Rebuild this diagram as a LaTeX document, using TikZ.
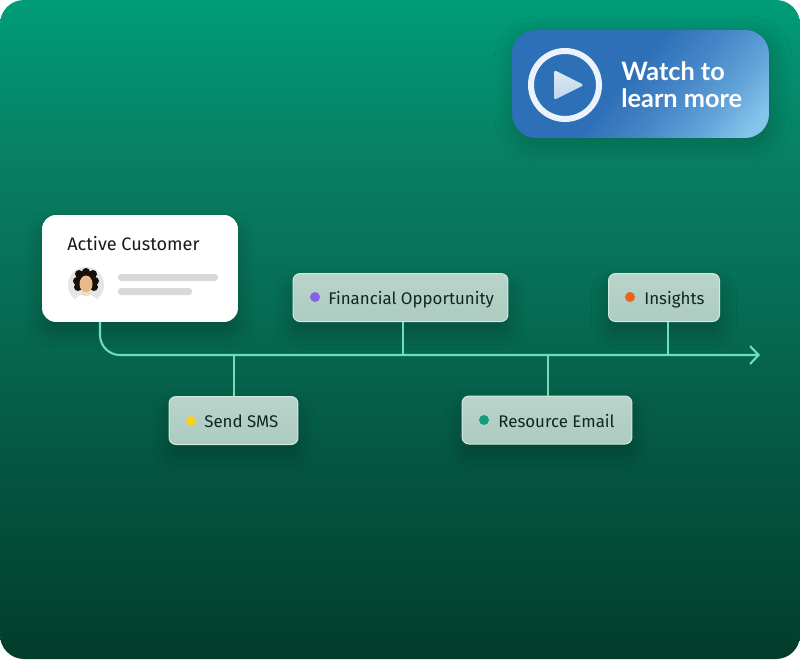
\documentclass[tikz,border=0pt]{standalone}
\usepackage{fontspec}
\setmainfont{Fira Sans}
\newfontfamily\btnfont{Lato}
\usetikzlibrary{arrows.meta,positioning,shadows.blur}
\definecolor{flow}{RGB}{112,222,184}
\definecolor{tagink}{RGB}{16,38,36}
\definecolor{tagtop}{RGB}{186,212,203}
\definecolor{tagbot}{RGB}{172,203,192}
\definecolor{tagedge}{RGB}{208,234,224}
\definecolor{bar}{RGB}{216,218,218}
\definecolor{playtop}{RGB}{222,234,246}
\definecolor{playbot}{RGB}{190,212,236}
\pgfdeclareverticalshading{bgfade}{100bp}{rgb(0bp)=(0.01,0.235,0.17);rgb(25bp)=(0.01,0.235,0.17);rgb(38bp)=(0.015,0.325,0.245);rgb(50bp)=(0.024,0.41,0.315);rgb(63bp)=(0.03,0.50,0.385);rgb(75bp)=(0,0.61,0.47);rgb(100bp)=(0,0.61,0.47)}
\pgfdeclarehorizontalshading{btnfade}{100bp}{rgb(0bp)=(0.18,0.44,0.72);rgb(46bp)=(0.18,0.44,0.72);rgb(58bp)=(0.27,0.52,0.78);rgb(70bp)=(0.38,0.64,0.85);rgb(80bp)=(0.52,0.77,0.92);rgb(100bp)=(0.55,0.80,0.93)}
\tikzset{
  softdrop/.style={blur shadow={shadow xshift=0pt,shadow yshift=-0.22cm,shadow blur radius=0.34cm,shadow opacity=24,shadow blur steps=14}},
  tagbox/.style={rectangle,rounded corners=0.14cm,draw=tagedge,line width=0.02cm,top color=tagtop,bottom color=tagbot,
    minimum height=0.96cm,softdrop},
  taglabel/.style={text=tagink,font=\fontsize{9.6}{11}\selectfont,inner sep=0pt,anchor=base west},
  tagdot/.style={circle,inner sep=0pt,minimum size=0.2cm},
  flowline/.style={draw=flow,line width=0.042cm},
  greybar/.style={fill=bar,rounded corners=0.06cm}
}
\begin{document}
\begin{tikzpicture}[x=0.02cm,y=-0.02cm]
  \useasboundingbox (0,0) rectangle (800,659);
  \shade[shading=bgfade,rounded corners=0.48cm] (0,0) rectangle (800,659);
  % button
  \node [rectangle,rounded corners=0.48cm,minimum width=5.14cm,minimum height=2.16cm,shading=btnfade,shading angle=-40,
    blur shadow={shadow xshift=0.06cm,shadow yshift=-0.12cm,shadow blur radius=0.4cm,shadow opacity=22,shadow blur steps=14}] (btn) at (640.5,84) {};
  \node [circle,draw=playtop!60!white,line width=0.12cm,minimum size=1.36cm,inner sep=0pt] (ring) at (565,85) {};
  \shade[top color=playtop,bottom color=playbot,rounded corners=0.05cm] (554,70) -- (584,85) -- (554,100) -- cycle;
  \node [text=white,align=left,anchor=west,inner sep=0pt,font=\btnfont\bfseries\fontsize{14.4}{15.4}\selectfont] (watch) at (621,85) {Watch to\\learn more};
  % card
  \node [rectangle,rounded corners=0.28cm,fill=white,minimum width=3.92cm,minimum height=2.14cm,softdrop] (card) at (140,268.5) {};
  \node [text=black!90,font=\fontsize{10.3}{12}\selectfont,inner sep=0pt,anchor=base west] (title) at (67,250) {Active Customer};
  \begin{scope}
    \clip (86,285) circle (18);
    \fill[black!10] (66,265) rectangle (106,305);
    \fill[white] (86,312) ellipse (15 and 18);
    \foreach \hx/\hy in {79/274,86/272,93/274,77/281,95/281,78/287,94/287}
      \fill[black!88!brown] (\hx,\hy) circle (4);
    \fill[black!88!brown] (86,280) circle (9);
    \fill[brown!70!orange!55!white] (86,284) ellipse (6.5 and 8.5);
    \fill[brown!40!orange!30!white] (86,294) ellipse (4.5 and 2);
  \end{scope}
  \fill[greybar] (118,274) rectangle (218,281);
  \fill[greybar] (118,288) rectangle (192,295);
  % tags
  \node [tagbox,minimum width=2.58cm] (sms) at (233.5,420.5) {};
  \node [tagbox,minimum width=4.3cm] (fin) at (400.5,297.5) {};
  \node [tagbox,minimum width=3.4cm] (res) at (547,420) {};
  \node [tagbox,minimum width=2.22cm] (ins) at (664,297.5) {};
  \node [tagdot,fill={rgb,255:red,250;green,208;blue,30}] (d1) at (191,421) {};
  \node [tagdot,fill={rgb,255:red,134;green,96;blue,232}] (d2) at (315,297) {};
  \node [tagdot,fill={rgb,255:red,18;green,158;blue,122}] (d3) at (484,420) {};
  \node [tagdot,fill={rgb,255:red,236;green,98;blue,22}] (d4) at (630,297) {};
  \node [taglabel] (l1) at (204,427) {Send SMS};
  \node [taglabel] (l2) at (328,304) {Financial Opportunity};
  \node [taglabel] (l3) at (498,427) {Resource Email};
  \node [taglabel] (l4) at (644,304) {Insights};
  % connectors
  \coordinate (start) at (100,322);
  \coordinate (tip) at (760,355);
  \coordinate (j1) at (234,355);
  \coordinate (j2) at (403,355);
  \coordinate (j3) at (548,355);
  \coordinate (j4) at (668,355);
  \draw[flowline,rounded corners=0.4cm,-{Straight Barb[length=0.17cm,width=0.36cm]}] (start) |- (tip);
  \foreach \from/\to in {j1/sms.north,j2/fin.south,j3/res.north,j4/ins.south}
  \draw[flowline] (\from) -- (\from |- \to);
\end{tikzpicture}
\end{document}
